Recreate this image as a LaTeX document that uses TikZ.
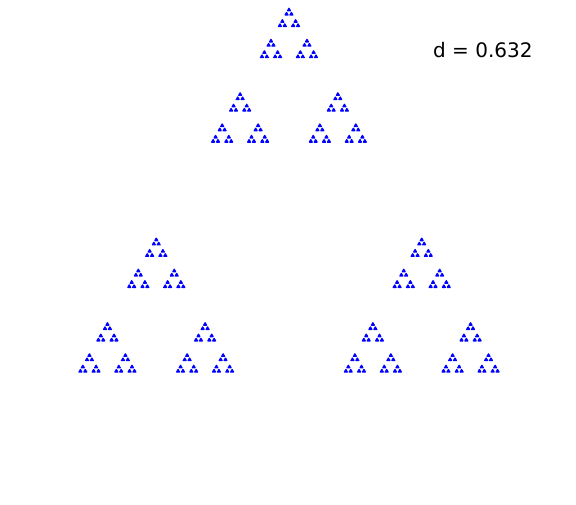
\documentclass[tikz,border=0pt]{standalone}
\usepackage{fontspec}
\usepackage{tikz}
\newfontfamily\labelfont{DejaVu Sans}
\tikzset{
  gdot/.style={fill=blue, draw=blue, line width=1.3pt, line join=round},
  glbl/.style={font=\labelfont\fontsize{20}{24}\selectfont, inner sep=0pt},
}
\newcommand\gratio{0.368}
% one level of the gasket: three shrunk copies towards the corners
\newcommand\gasket[1]{%
  \ifnum#1=0
    \filldraw[gdot] (0,0) -- (1,0) -- (0.5,0.866) -- cycle;
  \else
    \foreach \vx/\vy in {0/0,1/0,0.5/0.866}{%
      \begin{scope}[shift={({\vx*(1-\gratio)},{\vy*(1-\gratio)})}, scale=\gratio]
        \gasket{\the\numexpr#1-1\relax}
      \end{scope}}%
  \fi}

\begin{document}
\begin{tikzpicture}[x=1pt,y=1pt]
  \useasboundingbox (0,0) rectangle (576,504);

  % attractor, corners at (79,132), (499,132), (289,496)
  \begin{scope}[shift={(79,132)}, x=420pt, y=420pt]
    \gasket{5}
  \end{scope}

  \node[glbl, anchor=base west] (dval) at (433,446) {d = 0.632};

\end{tikzpicture}
\end{document}
